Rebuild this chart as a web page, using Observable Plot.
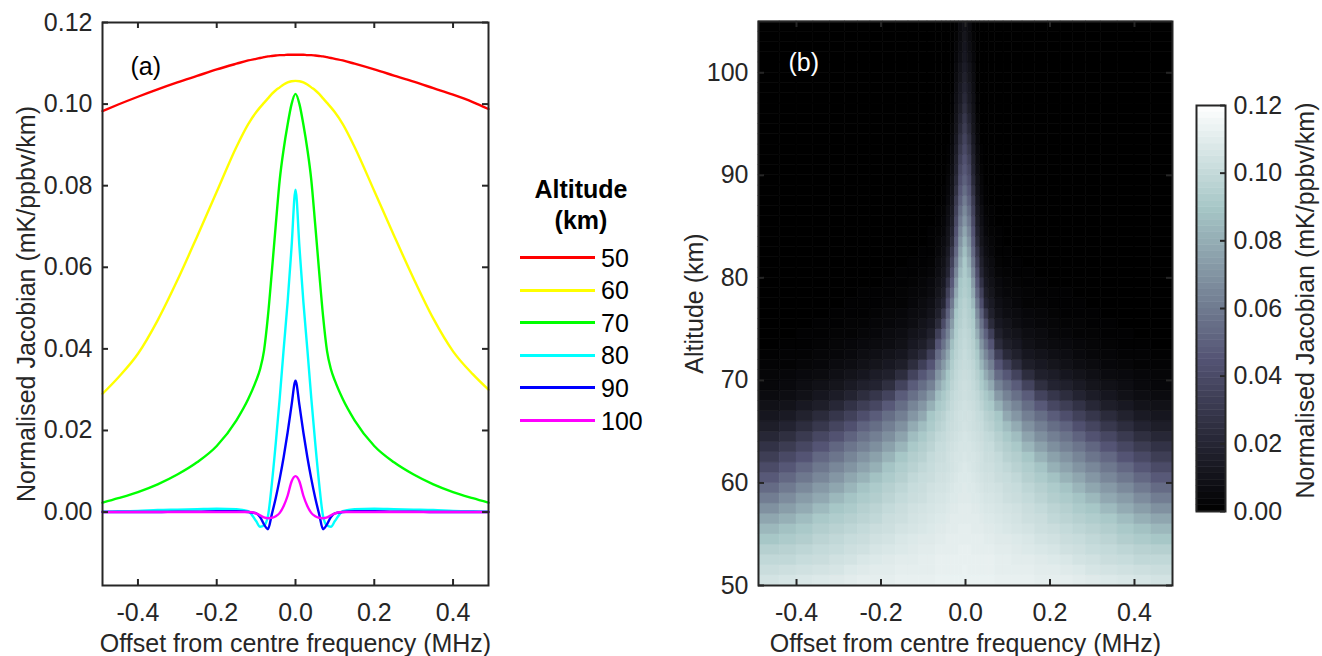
<!DOCTYPE html>
<html>
<head>
<meta charset="utf-8">
<script src="https://cdn.jsdelivr.net/npm/d3@7"></script>
<script src="https://cdn.jsdelivr.net/npm/@observablehq/plot@0.6"></script>
<style>
  body { margin: 0; background: #ffffff; }
  #root { position: relative; width: 1322px; height: 656px; overflow: hidden; background: #ffffff;
          font-family: "Liberation Sans", Arial, Helvetica, sans-serif; color: #262626; }
  .panel { position: absolute; top: 0; }
  .lg { position: absolute; white-space: nowrap; font-size: 25px; line-height: 30px; height: 30px; }
  .lgline { position: absolute; height: 3px; }
</style>
</head>
<body>
<div id="root">
  <div id="pa" class="panel" style="left:0px"></div>
  <div id="legend"></div>
  <div id="pb" class="panel" style="left:640px"></div>
  <div id="pc" class="panel" style="left:1180px"></div>
</div>
<script>
// ---------------- DATA: panel (a) line profiles ----------------
const lineFreq = [-0.49,-0.45,-0.40,-0.35,-0.30,-0.25,-0.20,-0.15,-0.12,-0.10,-0.09,-0.08,-0.07,-0.06,-0.05,-0.04,-0.03,-0.02,-0.01,0,
                  0.01,0.02,0.03,0.04,0.05,0.06,0.07,0.08,0.09,0.10,0.12,0.15,0.20,0.25,0.30,0.35,0.40,0.45,0.49];
const altitudes = [50, 60, 70, 80, 90, 100];
const jac50 = [0.0983,0.0999,0.1018,0.1036,0.1053,0.1069,0.1085,0.1099,0.1107,0.1111,0.1113,0.1115,0.1117,0.1118,0.1119,0.1120,0.1120,0.1121,0.1121,0.1121,
               0.1121,0.1121,0.1120,0.1120,0.1119,0.1118,0.1117,0.1115,0.1113,0.1111,0.1107,0.1099,0.1085,0.1070,0.1055,0.1039,0.1023,0.1005,0.0988];
const jac60 = [0.0290,0.0330,0.0388,0.0470,0.0568,0.0675,0.0785,0.0895,0.0951,0.0980,0.0992,0.1003,0.1014,0.1025,0.1034,0.1041,0.1048,0.1053,0.1056,0.1057,
               0.1056,0.1053,0.1048,0.1041,0.1034,0.1025,0.1014,0.1003,0.0992,0.0980,0.0951,0.0895,0.0787,0.0678,0.0572,0.0474,0.0394,0.0338,0.0300];
const jac70 = [0.0023,0.0034,0.0049,0.0068,0.0092,0.0122,0.0162,0.0225,0.0277,0.0322,0.0350,0.0395,0.0480,0.0590,0.0705,0.0815,0.0890,0.0950,0.1000,0.1025,
               0.1000,0.0950,0.0890,0.0815,0.0705,0.0590,0.0480,0.0395,0.0350,0.0322,0.0277,0.0225,0.0162,0.0122,0.0092,0.0068,0.0049,0.0034,0.0023];
const jac80 = [0.0001,0.0002,0.0003,0.0005,0.0006,0.0007,0.0008,0.0007,0.0002,-0.0022,-0.0036,-0.0033,-0.0010,0.0070,0.0170,0.0280,0.0400,0.0515,0.0650,0.0790,
               0.0650,0.0515,0.0400,0.0280,0.0170,0.0070,-0.0010,-0.0033,-0.0036,-0.0022,0.0002,0.0007,0.0008,0.0007,0.0006,0.0005,0.0003,0.0002,0.0001];
const jac90 = [0,0,0,0,0.0001,0.0001,0.0002,0.0002,0.0000,-0.0003,-0.0012,-0.0030,-0.0042,-0.0005,0.0035,0.0082,0.0135,0.0195,0.0262,0.0322,
               0.0262,0.0195,0.0135,0.0082,0.0035,-0.0005,-0.0042,-0.0030,-0.0012,-0.0003,0.0000,0.0002,0.0002,0.0001,0.0001,0,0,0,0];
const jac100 = [0,0,0,0,0,0,0,0,0,-0.0003,-0.0008,-0.0013,-0.0015,-0.0014,-0.0010,-0.0002,0.0015,0.0040,0.0075,0.0088,
                0.0075,0.0040,0.0015,-0.0002,-0.0010,-0.0014,-0.0015,-0.0013,-0.0008,-0.0003,0,0,0,0,0,0,0,0,0];
const seriesColors = ["#ff0000", "#ffff00", "#00ff00", "#00ffff", "#0000ff", "#ff00ff"];
const seriesValues = [jac50, jac60, jac70, jac80, jac90, jac100];

// ---------------- DATA: panel (b) heat map (values in 0.001 mK/ppbv/km) ----------------
const heatFreq = [-0.46,-0.42,-0.38,-0.34,-0.30,-0.27,-0.24,-0.21,-0.18,-0.15,-0.12,-0.10,-0.08,-0.06,-0.05,-0.04,-0.03,-0.02,-0.01,0,
                  0.01,0.02,0.03,0.04,0.05,0.06,0.08,0.10,0.12,0.15,0.18,0.21,0.24,0.27,0.30,0.34,0.38,0.42,0.46];
const heatAltitude = [50,51,52,53,54,55,56,57,58,59,60,61,62,63,64,65,66,67,68,69,70,71,72,73,74,75,76,77,78,79,
                      80,81,82,83,84,85,86,87,88,89,90,91,92,93,94,95,96,97,98,99,100,101,102,103,104];
const heatRows = [
[105,106,107,108,109,110,111,111,111,112,112,112,112,113,113,113,113,113,113,113,113,113,113,113,113,113,112,112,112,112,111,111,111,110,109,108,107,106,105],
[102,103,104,105,106,108,109,110,110,111,111,111,111,112,112,112,112,112,112,113,112,112,112,112,112,112,111,111,111,111,110,110,109,108,106,105,104,103,102],
[99,99,101,102,104,105,107,108,109,110,110,111,111,112,112,112,112,112,112,112,112,112,112,112,112,112,111,111,110,110,109,108,107,105,104,102,101,99,99],
[95,96,98,100,101,103,104,106,107,108,109,110,110,111,111,111,111,111,112,112,112,111,111,111,111,111,110,110,109,108,107,106,104,103,101,100,98,96,95],
[90,92,94,97,99,101,102,104,105,107,108,109,109,110,110,111,111,111,111,111,111,111,111,111,110,110,109,109,108,107,105,104,102,101,99,97,94,92,90],
[84,88,91,94,96,98,100,102,103,105,106,107,108,109,109,110,110,110,111,111,111,110,110,110,109,109,108,107,106,105,103,102,100,98,96,94,91,88,84],
[77,81,86,91,93,95,97,99,102,103,105,106,107,108,108,109,110,110,110,110,110,110,110,109,108,108,107,106,105,103,102,99,97,95,93,91,86,81,77],
[69,74,79,85,90,92,95,97,100,102,104,105,106,107,107,108,109,109,110,110,110,109,109,108,107,107,106,105,104,102,100,97,95,92,90,85,79,74,69],
[61,67,73,78,84,89,92,94,97,100,102,103,105,106,106,107,108,108,109,109,109,108,108,107,106,106,105,103,102,100,97,94,92,89,84,78,73,67,61],
[54,60,66,72,77,83,89,92,95,98,101,102,104,105,105,106,107,108,108,109,108,108,107,106,105,105,104,102,101,98,95,92,89,83,77,72,66,60,54],
[47,53,59,65,71,77,82,88,92,95,99,101,102,104,104,105,106,107,108,108,108,107,106,105,104,104,102,101,99,95,92,88,82,77,71,65,59,53,47],
[40,46,53,59,65,70,76,81,89,93,96,99,101,103,103,104,105,106,107,108,107,106,105,104,103,103,101,99,96,93,89,81,76,70,65,59,53,46,40],
[33,39,45,53,58,64,70,75,82,90,94,96,100,102,102,104,105,106,106,107,106,106,105,104,102,102,100,96,94,90,82,75,70,64,58,53,45,39,33],
[27,32,38,45,52,58,63,68,75,83,91,94,97,101,101,103,104,105,106,106,106,105,104,103,101,101,97,94,91,83,75,68,63,58,52,45,38,32,27],
[21,25,31,38,44,51,57,62,68,76,86,91,95,99,100,102,103,104,105,106,105,104,103,102,100,99,95,91,86,76,68,62,57,51,44,38,31,25,21],
[16,19,24,30,37,43,51,55,62,69,79,86,92,96,98,101,102,103,104,105,104,103,102,101,98,96,92,86,79,69,62,55,51,43,37,30,24,19,16],
[12,14,18,23,29,35,42,48,55,62,71,78,90,94,96,100,101,103,104,104,104,103,101,100,96,94,90,78,71,62,55,48,42,35,29,23,18,14,12],
[9,10,13,16,21,27,33,38,47,55,64,71,81,91,93,97,100,102,103,104,103,102,100,97,93,91,81,71,64,55,47,38,33,27,21,16,13,10,9],
[6,7,9,12,15,19,24,29,36,48,56,63,72,86,91,95,99,101,102,103,102,101,99,95,91,86,72,63,56,48,36,29,24,19,15,12,9,7,6],
[4,5,7,9,11,14,17,19,25,36,48,55,63,78,86,92,97,100,102,103,102,100,97,92,86,78,63,55,48,36,25,19,17,14,11,9,7,5,4],
[3,4,5,6,8,10,12,15,17,24,36,46,54,70,79,90,95,99,101,102,101,99,95,90,79,70,54,46,36,24,17,15,12,10,8,6,5,4,3],
[2,2,3,4,6,7,9,11,13,16,24,34,45,62,72,83,93,98,100,101,100,98,93,83,72,62,45,34,24,16,13,11,9,7,6,4,3,2,2],
[1,2,2,3,4,5,7,8,10,12,17,22,34,54,65,77,91,96,99,101,99,96,91,77,65,54,34,22,17,12,10,8,7,5,4,3,2,2,1],
[0,1,1,2,3,4,5,6,7,9,13,16,23,45,57,70,87,95,98,100,98,95,87,70,57,45,23,16,13,9,7,6,5,4,3,2,1,1,0],
[0,0,1,1,2,2,3,4,6,7,10,12,17,34,50,63,80,93,97,99,97,93,80,63,50,34,17,12,10,7,6,4,3,2,2,1,1,0,0],
[0,0,0,1,1,2,2,3,4,5,7,10,13,23,40,57,73,92,95,98,95,92,73,57,40,23,13,10,7,5,4,3,2,2,1,1,0,0,0],
[0,0,0,0,1,1,1,2,3,4,6,7,10,17,30,50,67,90,94,97,94,90,67,50,30,17,10,7,6,4,3,2,1,1,1,0,0,0,0],
[0,0,0,0,0,1,1,1,2,2,4,6,8,14,20,42,60,84,93,96,93,84,60,42,20,14,8,6,4,2,2,1,1,1,0,0,0,0,0],
[0,0,0,0,0,0,1,1,1,2,3,4,6,11,16,35,53,78,91,94,91,78,53,35,16,11,6,4,3,2,1,1,1,0,0,0,0,0,0],
[0,0,0,0,0,0,0,0,1,1,2,3,5,9,13,27,47,72,90,93,90,72,47,27,13,9,5,3,2,1,1,0,0,0,0,0,0,0,0],
[0,0,0,0,0,0,0,0,0,1,1,2,3,7,11,20,41,65,85,92,85,65,41,20,11,7,3,2,1,1,0,0,0,0,0,0,0,0,0],
[0,0,0,0,0,0,0,0,0,0,1,1,2,6,9,17,35,59,80,91,80,59,35,17,9,6,2,1,1,0,0,0,0,0,0,0,0,0,0],
[0,0,0,0,0,0,0,0,0,0,0,1,1,4,7,14,29,53,75,87,75,53,29,14,7,4,1,1,0,0,0,0,0,0,0,0,0,0,0],
[0,0,0,0,0,0,0,0,0,0,0,0,1,3,6,11,23,48,70,82,70,48,23,11,6,3,1,0,0,0,0,0,0,0,0,0,0,0,0],
[0,0,0,0,0,0,0,0,0,0,0,0,1,2,4,10,19,44,65,77,65,44,19,10,4,2,1,0,0,0,0,0,0,0,0,0,0,0,0],
[0,0,0,0,0,0,0,0,0,0,0,0,0,1,3,8,16,39,60,71,60,39,16,8,3,1,0,0,0,0,0,0,0,0,0,0,0,0,0],
[0,0,0,0,0,0,0,0,0,0,0,0,0,1,2,7,14,35,55,66,55,35,14,7,2,1,0,0,0,0,0,0,0,0,0,0,0,0,0],
[0,0,0,0,0,0,0,0,0,0,0,0,0,0,1,5,12,31,50,61,50,31,12,5,1,0,0,0,0,0,0,0,0,0,0,0,0,0,0],
[0,0,0,0,0,0,0,0,0,0,0,0,0,0,1,4,10,26,46,55,46,26,10,4,1,0,0,0,0,0,0,0,0,0,0,0,0,0,0],
[0,0,0,0,0,0,0,0,0,0,0,0,0,0,0,3,9,22,42,50,42,22,9,3,0,0,0,0,0,0,0,0,0,0,0,0,0,0,0],
[0,0,0,0,0,0,0,0,0,0,0,0,0,0,0,2,7,19,38,46,38,19,7,2,0,0,0,0,0,0,0,0,0,0,0,0,0,0,0],
[0,0,0,0,0,0,0,0,0,0,0,0,0,0,0,1,6,17,34,43,34,17,6,1,0,0,0,0,0,0,0,0,0,0,0,0,0,0,0],
[0,0,0,0,0,0,0,0,0,0,0,0,0,0,0,1,5,15,30,39,30,15,5,1,0,0,0,0,0,0,0,0,0,0,0,0,0,0,0],
[0,0,0,0,0,0,0,0,0,0,0,0,0,0,0,0,4,13,26,36,26,13,4,0,0,0,0,0,0,0,0,0,0,0,0,0,0,0,0],
[0,0,0,0,0,0,0,0,0,0,0,0,0,0,0,0,3,11,22,32,22,11,3,0,0,0,0,0,0,0,0,0,0,0,0,0,0,0,0],
[0,0,0,0,0,0,0,0,0,0,0,0,0,0,0,0,2,10,19,29,19,10,2,0,0,0,0,0,0,0,0,0,0,0,0,0,0,0,0],
[0,0,0,0,0,0,0,0,0,0,0,0,0,0,0,0,1,9,16,25,16,9,1,0,0,0,0,0,0,0,0,0,0,0,0,0,0,0,0],
[0,0,0,0,0,0,0,0,0,0,0,0,0,0,0,0,1,8,14,22,14,8,1,0,0,0,0,0,0,0,0,0,0,0,0,0,0,0,0],
[0,0,0,0,0,0,0,0,0,0,0,0,0,0,0,0,0,7,13,19,13,7,0,0,0,0,0,0,0,0,0,0,0,0,0,0,0,0,0],
[0,0,0,0,0,0,0,0,0,0,0,0,0,0,0,0,0,6,11,17,11,6,0,0,0,0,0,0,0,0,0,0,0,0,0,0,0,0,0],
[0,0,0,0,0,0,0,0,0,0,0,0,0,0,0,0,0,5,10,15,10,5,0,0,0,0,0,0,0,0,0,0,0,0,0,0,0,0,0],
[0,0,0,0,0,0,0,0,0,0,0,0,0,0,0,0,0,4,8,13,8,4,0,0,0,0,0,0,0,0,0,0,0,0,0,0,0,0,0],
[0,0,0,0,0,0,0,0,0,0,0,0,0,0,0,0,0,3,7,12,7,3,0,0,0,0,0,0,0,0,0,0,0,0,0,0,0,0,0],
[0,0,0,0,0,0,0,0,0,0,0,0,0,0,0,0,0,2,6,11,6,2,0,0,0,0,0,0,0,0,0,0,0,0,0,0,0,0,0],
[0,0,0,0,0,0,0,0,0,0,0,0,0,0,0,0,0,1,6,9,6,1,0,0,0,0,0,0,0,0,0,0,0,0,0,0,0,0,0]
];

// ---------------- tick labels ----------------
const freqTicks = [-0.4, -0.2, 0.0, 0.2, 0.4];
const jacTicks = [0.00, 0.02, 0.04, 0.06, 0.08, 0.10, 0.12];
const altTicks = [50, 60, 70, 80, 90, 100];
const cbTicks = [0.00, 0.02, 0.04, 0.06, 0.08, 0.10, 0.12];

// sanity check
if (heatRows.length !== heatAltitude.length) throw new Error("row count " + heatRows.length);
heatRows.forEach((r, i) => { if (r.length !== heatFreq.length) throw new Error("row " + i + " has " + r.length); });

// ---------------- styles ----------------
const FONT = "Liberation Sans, Arial, Helvetica, sans-serif";
const INK = "#262626";
const FS = 25;
const H = 656;
const baseStyle = { fontFamily: FONT, fontSize: FS + "px", color: INK, background: "transparent", overflow: "visible" };
const boneColor = { type: "linear", domain: [0, 0.045, 0.09, 0.12], range: ["#000000", "#545474", "#a7c7c7", "#ffffff"], interpolate: "rgb", clamp: true };
const T = { fontSize: FS, fill: INK, lineAnchor: "middle" };

function boxTicks(xt, yt, innerW, innerH, len) {
  const o = { stroke: INK, strokeWidth: 2 };
  const m = [];
  if (xt) {
    m.push(Plot.ruleX(xt, { x: d => d, insetTop: innerH - len, ...o }));
    m.push(Plot.ruleX(xt, { x: d => d, insetBottom: innerH - len, ...o }));
  }
  if (yt) {
    m.push(Plot.ruleY(yt, { y: d => d, insetRight: innerW - len, ...o }));
    m.push(Plot.ruleY(yt, { y: d => d, insetLeft: innerW - len, ...o }));
  }
  return m;
}

// ---------------- panel (a) ----------------
{
  const W = 500, mL = 102, mR = 12, mT = 22, mB = 71;
  const innerW = W - mL - mR, innerH = H - mT - mB;
  const lineMarks = seriesValues.map((vals, s) =>
    Plot.line(lineFreq.map((f, i) => ({ f, v: vals[i] })),
      { x: "f", y: "v", stroke: seriesColors[s], strokeWidth: 2.4, curve: "monotone-x" }));
  const chart = Plot.plot({
    width: W, height: H, marginLeft: mL, marginRight: mR, marginTop: mT, marginBottom: mB,
    style: baseStyle,
    x: { domain: [-0.49, 0.49], axis: null },
    y: { domain: [-0.018, 0.12], axis: null },
    marks: [
      ...lineMarks,
      ...boxTicks(freqTicks, jacTicks, innerW, innerH, 6),
      Plot.frame({ stroke: INK, strokeWidth: 2 }),
      Plot.text(freqTicks, { x: d => d, frameAnchor: "bottom", dy: 27, textAnchor: "middle", text: d => d.toFixed(1), ...T }),
      Plot.text(jacTicks, { y: d => d, frameAnchor: "left", dx: -10, textAnchor: "end", text: d => d.toFixed(2), ...T }),
      Plot.text(["Offset from centre frequency (MHz)"], { text: d => d, frameAnchor: "bottom", dy: 58, textAnchor: "middle", ...T }),
      Plot.text(["Normalised Jacobian (mK/ppbv/km)"], { text: d => d, frameAnchor: "left", dx: -76, rotate: -90, textAnchor: "middle", ...T }),
      Plot.text(["(a)"], { text: d => d, frameAnchor: "top-left", dx: 28, dy: 44, textAnchor: "start", ...T, fill: "#000000" })
    ]
  });
  document.getElementById("pa").appendChild(chart);
}

// ---------------- legend ----------------
{
  const lg = document.getElementById("legend");
  const add = (html, cls, style) => { const d = document.createElement("div"); d.className = cls; d.innerHTML = html; Object.assign(d.style, style); lg.appendChild(d); return d; };
  add("Altitude", "lg", { left: "531px", width: "100px", textAlign: "center", top: "174px", fontWeight: "bold", color: "#000" });
  add("(km)", "lg", { left: "531px", width: "100px", textAlign: "center", top: "205px", fontWeight: "bold", color: "#000" });
  altitudes.forEach((a, i) => {
    const cy = 257.5 + i * 32.6;
    add("", "lgline", { left: "520px", width: "75px", top: (cy - 1.5) + "px", background: seriesColors[i] });
    add(String(a), "lg", { left: "601px", top: (cy - 15) + "px", color: "#000" });
  });
}

// ---------------- panel (b) ----------------
{
  const W = 560, mL = 118, mR = 28, mT = 21, mB = 71;
  const innerW = W - mL - mR, innerH = H - mT - mB;
  const edges = [-0.49];
  for (let i = 1; i < heatFreq.length; i++) edges.push((heatFreq[i - 1] + heatFreq[i]) / 2);
  edges.push(0.49);
  const cells = [];
  heatAltitude.forEach((a, r) => heatFreq.forEach((f, c) => {
    cells.push({ x1: edges[c], x2: edges[c + 1], y1: a, y2: a + 1, v: heatRows[r][c] / 1000 });
  }));
  const chart = Plot.plot({
    width: W, height: H, marginLeft: mL, marginRight: mR, marginTop: mT, marginBottom: mB,
    style: baseStyle,
    x: { domain: [-0.49, 0.49], axis: null },
    y: { domain: [50, 105], axis: null },
    color: boneColor,
    marks: [
      Plot.rect(cells, { x1: "x1", x2: "x2", y1: "y1", y2: "y2", fill: "v", stroke: "v", strokeWidth: 0.6 }),
      ...boxTicks(freqTicks, altTicks, innerW, innerH, 6),
      Plot.frame({ stroke: INK, strokeWidth: 2 }),
      Plot.text(freqTicks, { x: d => d, frameAnchor: "bottom", dy: 27, textAnchor: "middle", text: d => d.toFixed(1), ...T }),
      Plot.text(altTicks, { y: d => d, frameAnchor: "left", dx: -10, textAnchor: "end", text: d => String(d), ...T }),
      Plot.text(["Offset from centre frequency (MHz)"], { text: d => d, frameAnchor: "bottom", dy: 58, textAnchor: "middle", ...T }),
      Plot.text(["Altitude (km)"], { text: d => d, frameAnchor: "left", dx: -64, rotate: -90, textAnchor: "middle", ...T }),
      Plot.text(["(b)"], { text: d => d, frameAnchor: "top-left", dx: 30, dy: 41, textAnchor: "start", ...T, fill: "#ffffff" })
    ]
  });
  document.getElementById("pb").appendChild(chart);
}

// ---------------- colour bar ----------------
{
  const W = 142, mL = 16, mR = 97, mT = 105, mB = 145;
  const innerW = W - mL - mR;
  const nBands = 64, top = 0.12, step = top / nBands;
  const bands = d3.range(nBands).map(i => i * step);
  const chart = Plot.plot({
    width: W, height: H, marginLeft: mL, marginRight: mR, marginTop: mT, marginBottom: mB,
    style: baseStyle,
    y: { domain: [0, top], axis: null },
    color: boneColor,
    marks: [
      Plot.rect(bands, { y1: d => d, y2: d => d + step, fill: d => d + step / 2, stroke: d => d + step / 2, strokeWidth: 0.5 }),
      Plot.ruleY(cbTicks, { y: d => d, insetLeft: innerW - 5, stroke: INK, strokeWidth: 2 }),
      Plot.frame({ stroke: INK, strokeWidth: 2 }),
      Plot.text(cbTicks, { y: d => d, frameAnchor: "right", dx: 8, textAnchor: "start", text: d => d.toFixed(2), ...T }),
      Plot.text(["Normalised Jacobian (mK/ppbv/km)"], { text: d => d, frameAnchor: "right", dx: 80, dy: -8, rotate: -90, textAnchor: "middle", ...T })
    ]
  });
  document.getElementById("pc").appendChild(chart);
}
</script>
</body>
</html>
